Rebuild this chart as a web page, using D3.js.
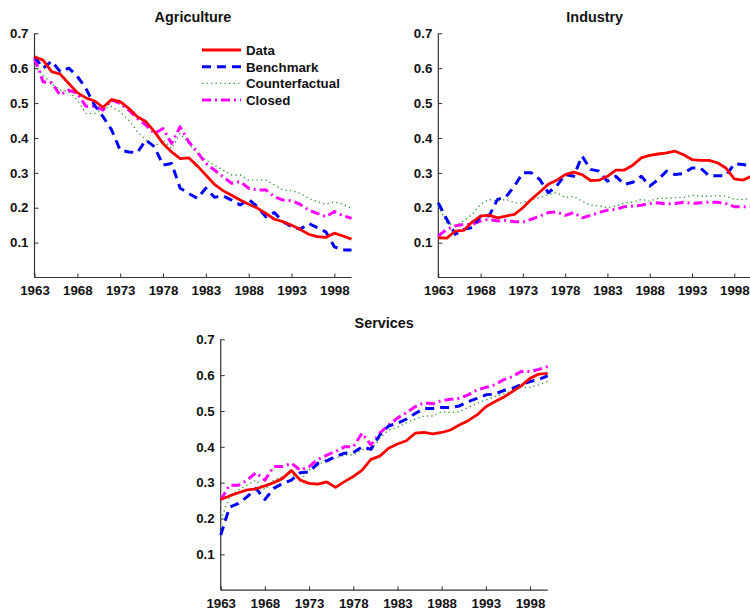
<!DOCTYPE html>
<html><head><meta charset="utf-8">
<script src="https://cdn.jsdelivr.net/npm/d3@7"></script>
<style>body{margin:0;background:#fff}svg{display:block}text{font-family:"Liberation Sans",Arial,sans-serif;font-weight:bold;fill:#111}</style>
</head><body>
<script>
const years = d3.range(1963, 2001);
const xTicks = [1963,1968,1973,1978,1983,1988,1993,1998];
const yTicks = [0.1,0.2,0.3,0.4,0.5,0.6,0.7];
const seriesNames = ["Data","Benchmark","Counterfactual","Closed"];

const agriData = [0.633,0.623,0.59,0.583,0.556,0.53,0.515,0.506,0.488,0.51,0.504,0.485,0.461,0.447,0.418,0.384,0.36,0.341,0.343,0.32,0.294,0.267,0.249,0.236,0.222,0.21,0.199,0.184,0.167,0.16,0.15,0.138,0.124,0.117,0.115,0.127,0.119,0.11];
const agriBench = [0.633,0.6,0.62,0.59,0.6,0.577,0.542,0.494,0.461,0.423,0.365,0.36,0.358,0.394,0.375,0.322,0.327,0.256,0.241,0.227,0.256,0.23,0.234,0.222,0.208,0.224,0.203,0.174,0.186,0.16,0.146,0.138,0.155,0.143,0.131,0.088,0.079,0.079];
const agriCounter = [0.609,0.58,0.556,0.537,0.532,0.509,0.47,0.47,0.485,0.49,0.475,0.451,0.418,0.394,0.375,0.394,0.37,0.413,0.384,0.356,0.337,0.322,0.308,0.294,0.294,0.279,0.279,0.279,0.265,0.251,0.249,0.241,0.227,0.217,0.21,0.217,0.21,0.198];
const agriClosed = [0.628,0.561,0.558,0.523,0.537,0.528,0.491,0.491,0.48,0.509,0.499,0.48,0.456,0.437,0.413,0.427,0.384,0.432,0.389,0.36,0.327,0.308,0.289,0.27,0.275,0.256,0.251,0.251,0.232,0.222,0.22,0.21,0.193,0.184,0.174,0.189,0.177,0.17];

const indData = [0.114,0.113,0.133,0.135,0.159,0.176,0.179,0.171,0.176,0.181,0.2,0.224,0.245,0.267,0.279,0.295,0.302,0.295,0.278,0.279,0.29,0.308,0.308,0.322,0.343,0.35,0.354,0.357,0.362,0.352,0.338,0.336,0.336,0.329,0.314,0.283,0.279,0.29];
const indBench = [0.214,0.167,0.124,0.138,0.143,0.176,0.176,0.224,0.231,0.262,0.3,0.3,0.281,0.243,0.262,0.295,0.29,0.348,0.31,0.305,0.276,0.29,0.267,0.273,0.29,0.262,0.281,0.305,0.295,0.298,0.314,0.314,0.292,0.292,0.292,0.326,0.324,0.321];
const indCounter = [0.205,0.157,0.148,0.162,0.181,0.21,0.224,0.219,0.224,0.214,0.214,0.224,0.229,0.238,0.243,0.229,0.233,0.219,0.207,0.205,0.2,0.205,0.214,0.216,0.224,0.219,0.227,0.227,0.229,0.229,0.236,0.233,0.233,0.235,0.233,0.224,0.224,0.226];
const indClosed = [0.119,0.138,0.148,0.152,0.152,0.162,0.167,0.162,0.164,0.16,0.159,0.167,0.176,0.186,0.188,0.178,0.186,0.171,0.178,0.186,0.193,0.195,0.203,0.205,0.207,0.212,0.214,0.211,0.212,0.216,0.212,0.214,0.216,0.216,0.212,0.203,0.203,0.203];

const serData = [0.253,0.263,0.272,0.28,0.283,0.291,0.3,0.312,0.334,0.307,0.298,0.296,0.302,0.287,0.303,0.317,0.335,0.365,0.374,0.396,0.408,0.417,0.438,0.44,0.436,0.44,0.447,0.461,0.473,0.489,0.512,0.526,0.538,0.554,0.57,0.591,0.603,0.605];
const serBench = [0.154,0.231,0.242,0.261,0.284,0.253,0.284,0.298,0.307,0.328,0.33,0.354,0.361,0.373,0.382,0.384,0.4,0.393,0.433,0.458,0.466,0.477,0.493,0.507,0.507,0.51,0.51,0.514,0.526,0.535,0.545,0.547,0.557,0.563,0.573,0.582,0.588,0.598];
const serCounter = [0.196,0.261,0.28,0.293,0.307,0.28,0.307,0.317,0.326,0.307,0.335,0.349,0.365,0.368,0.377,0.377,0.393,0.391,0.424,0.447,0.454,0.467,0.477,0.486,0.486,0.498,0.496,0.498,0.51,0.521,0.531,0.54,0.547,0.557,0.566,0.566,0.573,0.582];
const serClosed = [0.252,0.293,0.293,0.307,0.328,0.307,0.345,0.345,0.354,0.335,0.345,0.365,0.377,0.387,0.4,0.4,0.438,0.405,0.438,0.461,0.48,0.495,0.512,0.523,0.52,0.529,0.533,0.535,0.545,0.559,0.566,0.573,0.587,0.596,0.61,0.61,0.616,0.624];

const styles = [
  {color:"#ff0000", width:2.8, dash:null},
  {color:"#0000ff", width:3, dash:"9,6"},
  {color:"#3a983a", width:1.4, dash:"1.3,3.2"},
  {color:"#ff00ff", width:3, dash:"9,4,2,4"}
];

const panels = [
  {title:"Agriculture", series:[agriData,agriBench,agriCounter,agriClosed], x0:34.5, x1:351.5, yTop:33.3, yBot:277.5, legend:true},
  {title:"Industry", series:[indData,indBench,indCounter,indClosed], x0:438.3, x1:751.2, yTop:33.3, yBot:277.5},
  {title:"Services", series:[serData,serBench,serCounter,serClosed], x0:220.7, x1:547.7, yTop:339.3, yBot:590.2}
];

const svg = d3.select("body").append("svg").attr("width",750).attr("height",614);

panels.forEach(p => {
  const x = d3.scaleLinear().domain([1963,2000]).range([p.x0,p.x1]);
  const y = d3.scaleLinear().domain([0,0.7]).range([p.yBot,p.yTop]);
  const g = svg.append("g");

  const xa = g.append("g").attr("transform",`translate(0,${p.yBot})`)
    .call(d3.axisBottom(x).tickValues(xTicks).tickFormat(d3.format("d")).tickSizeInner(-4).tickSizeOuter(0).tickPadding(8));
  const ya = g.append("g").attr("transform",`translate(${p.x0},0)`)
    .call(d3.axisLeft(y).tickValues(yTicks).tickFormat(d3.format(".1f")).tickSizeInner(-4).tickSizeOuter(0).tickPadding(6));
  [xa,ya].forEach(a=>{
    a.select(".domain").attr("stroke","#333").attr("stroke-width",1.2);
    a.selectAll(".tick line").attr("stroke","#333");
    a.selectAll("text").style("font-size","13.3px").style("font-family","'Liberation Sans',Arial,sans-serif").style("font-weight","bold").attr("fill","#111");
  });
  xa.select(".domain").attr("d",`M${p.x0},0H${p.x1}`);
  ya.select(".domain").attr("d",`M0,${p.yBot}V${p.yTop}`);

  g.append("text").attr("x",(p.x0+p.x1)/2).attr("y",p.yTop-11.5).attr("text-anchor","middle")
    .style("font-size","14.4px").text(p.title);

  const line = d3.line().x((d,i)=>x(years[i])).y(d=>y(d));
  [2,3,1,0].forEach(k=>{
    const s = styles[k];
    g.append("path").datum(p.series[k]).attr("d",line).attr("fill","none")
      .attr("stroke",s.color).attr("stroke-width",s.width)
      .attr("stroke-dasharray",s.dash).attr("stroke-linejoin","round");
  });

  if (p.legend) {
    const lg = g.append("g");
    seriesNames.forEach((n,i)=>{
      const s = styles[i];
      const yy = 50 + i*16.7;
      lg.append("line").attr("x1",202).attr("x2",241).attr("y1",yy).attr("y2",yy)
        .attr("stroke",s.color).attr("stroke-width",s.width).attr("stroke-dasharray",s.dash);
      lg.append("text").attr("x",246).attr("y",yy+4.8).style("font-size","13.3px").text(n);
    });
  }
});
</script>
</body></html>
